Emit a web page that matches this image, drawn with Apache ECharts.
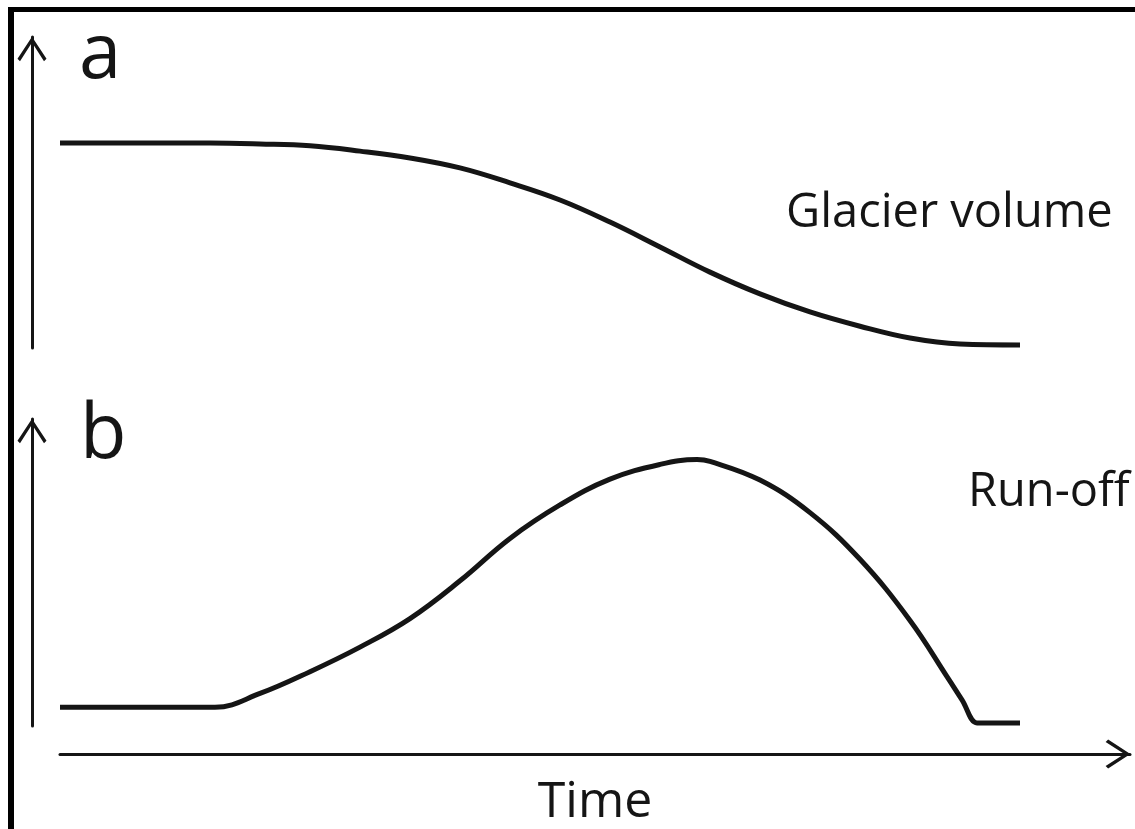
<!DOCTYPE html>
<html>
<head>
<meta charset="utf-8">
<title>Glacier volume and run-off</title>
<script src="https://cdn.jsdelivr.net/npm/echarts@6/dist/echarts.min.js"></script>
<style>
  html, body { margin: 0; padding: 0; background: #fff; }
  #chart { width: 1135px; height: 829px; }
</style>
</head>
<body>
<div id="chart"></div>
<script>
// panel a: glacier volume over time (relative units)
const volumeTime = [0, 5, 10, 15, 20, 25, 30, 35, 40, 45, 50, 55, 60, 65, 70, 75, 80, 85, 90, 96]
const volume = [65.9, 65.9, 65.9, 65.9, 65.6, 65.0, 63.3, 61.1, 57.9, 53.1, 47.6, 40.5, 32.5, 24.4, 17.4, 11.6, 7.0, 3.2, 1.3, 1.0]

// panel b: run-off over time (relative units)
const runoffTime = [0, 14.5, 15.5, 20, 25, 30, 35, 40, 45, 50, 55, 60, 63.7, 65, 70, 75, 80, 85, 88.7, 90.2, 91.7, 92.4, 96]
const runoff = [6.1, 6.1, 6.1, 10.6, 17.7, 25.7, 35.0, 47.3, 61.1, 72.0, 80.4, 85.2, 86.8, 86.2, 80.1, 69.5, 54.3, 34.4, 16.1, 8.5, 1.0, 1.0, 1.0]

const panelLabels = ["a", "b"]
const seriesLabels = ["Glacier volume", "Run-off"]
const timeLabel = "Time"

const ink = "#151515"
const font = "'Open Sans', 'DejaVu Sans', sans-serif"

// open chevron arrow head, pointing up
const chevron = "path://M15 0 L30 23 L27.4 25.6 L15 6.2 L2.6 25.6 L0 23 Z"

const zip = (xs, ys) => xs.map((x, i) => [x, ys[i]])

const chart = echarts.init(document.getElementById("chart"))

const yAxisBase = {
  type: "value",
  min: 0,
  max: 100,
  offset: 28,
  axisLine: {
    show: true,
    onZero: false,
    symbol: ["none", chevron],
    symbolSize: [29, 26],
    symbolOffset: [0, -12],
    lineStyle: { color: ink, width: 3 }
  },
  axisTick: { show: false },
  axisLabel: { show: false },
  splitLine: { show: false }
}

const option = {
  backgroundColor: "#ffffff",
  animation: false,
  grid: [
    { left: 60, right: 5, top: 37, bottom: 481 },
    { left: 60, right: 5, top: 419, bottom: 99 }
  ],
  xAxis: [
    {
      gridIndex: 0,
      type: "value",
      min: 0,
      max: 107,
      show: false
    },
    {
      gridIndex: 1,
      type: "value",
      min: 0,
      max: 107,
      offset: 28,
      name: timeLabel,
      nameLocation: "middle",
      nameGap: 24,
      nameTextStyle: { color: ink, fontSize: 50, fontFamily: font, verticalAlign: "top" },
      axisLine: {
        show: true,
        onZero: false,
        symbol: ["none", chevron],
        symbolSize: [29, 26],
        symbolOffset: [0, -12],
        lineStyle: { color: ink, width: 3 }
      },
      axisTick: { show: false },
      axisLabel: { show: false },
      splitLine: { show: false }
    }
  ],
  yAxis: [
    Object.assign({ gridIndex: 0 }, yAxisBase),
    Object.assign({ gridIndex: 1 }, yAxisBase)
  ],
  series: [
    {
      name: seriesLabels[0],
      type: "line",
      xAxisIndex: 0,
      yAxisIndex: 0,
      data: zip(volumeTime, volume),
      smooth: 0.4,
      showSymbol: false,
      lineStyle: { color: ink, width: 5, cap: "butt" }
    },
    {
      name: seriesLabels[1],
      type: "line",
      xAxisIndex: 1,
      yAxisIndex: 1,
      data: zip(runoffTime, runoff),
      smooth: 0.4,
      showSymbol: false,
      lineStyle: { color: ink, width: 5, cap: "butt" }
    }
  ],
  graphic: [
    // frame on top and left
    { type: "rect", shape: { x: 8, y: 7, width: 1127, height: 5 }, style: { fill: "#000" } },
    { type: "rect", shape: { x: 8, y: 7, width: 6, height: 822 }, style: { fill: "#000" } },
    {
      type: "text", left: 79, top: 18,
      style: { text: panelLabels[0], fill: ink, font: "76px " + font }
    },
    {
      type: "text", left: 80, top: 398,
      style: { text: panelLabels[1], fill: ink, font: "76px " + font }
    },
    {
      type: "text", left: 786, top: 190,
      style: { text: seriesLabels[0], fill: ink, font: "47px " + font }
    },
    {
      type: "text", left: 968, top: 469,
      style: { text: seriesLabels[1], fill: ink, font: "47px " + font }
    }
  ]
}

chart.setOption(option)
</script>
</body>
</html>
